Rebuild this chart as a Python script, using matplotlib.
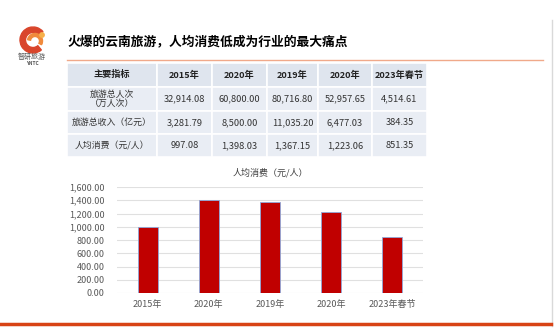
import matplotlib.pyplot as plt
from matplotlib.patches import Rectangle, Wedge, Circle
import numpy as np

plt.rcParams['font.family'] = ['Noto Sans CJK SC', 'DejaVu Sans']

W, H = 554, 332

# table contents
row_names = ["旅游总人次\n（万人次）", "旅游总收入（亿元）", "人均消费（元/人）"]
col_names = ["主要指标", "2015年", "2020年", "2019年", "2020年", "2023年春节"]
visitors = ["32,914.08", "60,800.00", "80,716.80", "52,957.65", "4,514.61"]
income = ["3,281.79", "8,500.00", "11,035.20", "6,477.03", "384.35"]
spend_text = ["997.08", "1,398.03", "1,367.15", "1,223.06", "851.35"]

# chart data
periods = ["2015年", "2020年", "2019年", "2020年", "2023年春节"]
per_capita = [997.08, 1398.03, 1367.15, 1223.06, 851.35]

fig = plt.figure(figsize=(W / 100, H / 100), dpi=100)
fig.patch.set_facecolor("white")

# full-page overlay in pixel coordinates, y going down
bg = fig.add_axes([0, 0, 1, 1])
bg.set_xlim(0, W)
bg.set_ylim(H, 0)
bg.axis("off")

# logo
bg.add_patch(Wedge((33, 40), 13, 50, 320, width=5.5, color="#d9452b"))
bg.add_patch(Wedge((35, 41), 7.5, 190, 30, width=3, color="#f08a3c"))
bg.add_patch(Circle((42, 35), 2.2, color="#f6b04a"))
bg.text(32, 57, "智研旅游", ha="center", va="center", fontsize=5, color="#555555")
bg.text(32, 63.5, "YNTC", ha="center", va="center", fontsize=3.5, color="#555555",
        fontweight="bold")

# title and rules
bg.text(68, 42, "火爆的云南旅游，人均消费低成为行业的最大痛点", ha="left", va="center",
        fontsize=9.2, fontweight="bold", color="black")
bg.plot([67, 543], [59.5, 59.5], color="#f0a98a", lw=1)
bg.plot([551.5, 551.5], [20, 326], color="#d9d9d9", lw=1)
bg.plot([0, 551], [323.5, 323.5], color="#d84315", lw=2.5)

# table
col_x = [67, 157, 212, 267, 318, 372, 427]
row_y = [63, 87, 111, 134, 157]
rows = [col_names,
        [row_names[0]] + visitors,
        [row_names[1]] + income,
        [row_names[2]] + spend_text]
for r in range(4):
    for c in range(6):
        x0, x1 = col_x[c], col_x[c + 1]
        y0, y1 = row_y[r], row_y[r + 1]
        face = "#dfe5ee" if r == 0 else "#e9edf4"
        bg.add_patch(Rectangle((x0, y0), x1 - x0, y1 - y0, facecolor=face,
                               edgecolor="white", lw=1.2))
        txt = rows[r][c]
        if r == 0:
            bg.text((x0 + x1) / 2, (y0 + y1) / 2, txt, ha="center", va="center",
                    fontsize=6.6, fontweight="bold", color="#222222")
        elif c == 0:
            bg.text((x0 + x1) / 2, (y0 + y1) / 2, txt, ha="center", va="center",
                    fontsize=6.4, color="#333333", linespacing=1.1)
        else:
            bg.text((x0 + x1) / 2, (y0 + y1) / 2, txt, ha="center", va="center",
                    fontsize=6.7, color="#333333")

# bar chart
ax = fig.add_axes([117 / W, (H - 293) / H, 306 / W, 106 / H])
x = np.arange(len(periods))
ax.bar(x, per_capita, width=0.33, color="#c00000", edgecolor="#8faadc", lw=0.6, zorder=3)
ax.set_xlim(-0.5, len(periods) - 0.5)
ax.set_ylim(0, 1600)
ax.set_yticks(np.arange(0, 1601, 200))
ax.set_yticklabels([f"{v:,.2f}" for v in np.arange(0, 1601, 200)])
ax.set_xticks(x)
ax.set_xticklabels(periods)
ax.tick_params(axis="both", length=0, labelsize=6.5, colors="#595959")
ax.tick_params(axis="y", pad=9)
ax.tick_params(axis="x", pad=5)
ax.grid(axis="y", color="#e0e0e0", lw=0.8, zorder=0)
for s in ax.spines.values():
    s.set_visible(False)
ax.set_title("人均消费（元/人）", fontsize=6.5, color="#404040", pad=8)

fig.savefig("out.png", dpi=100, facecolor="white")
